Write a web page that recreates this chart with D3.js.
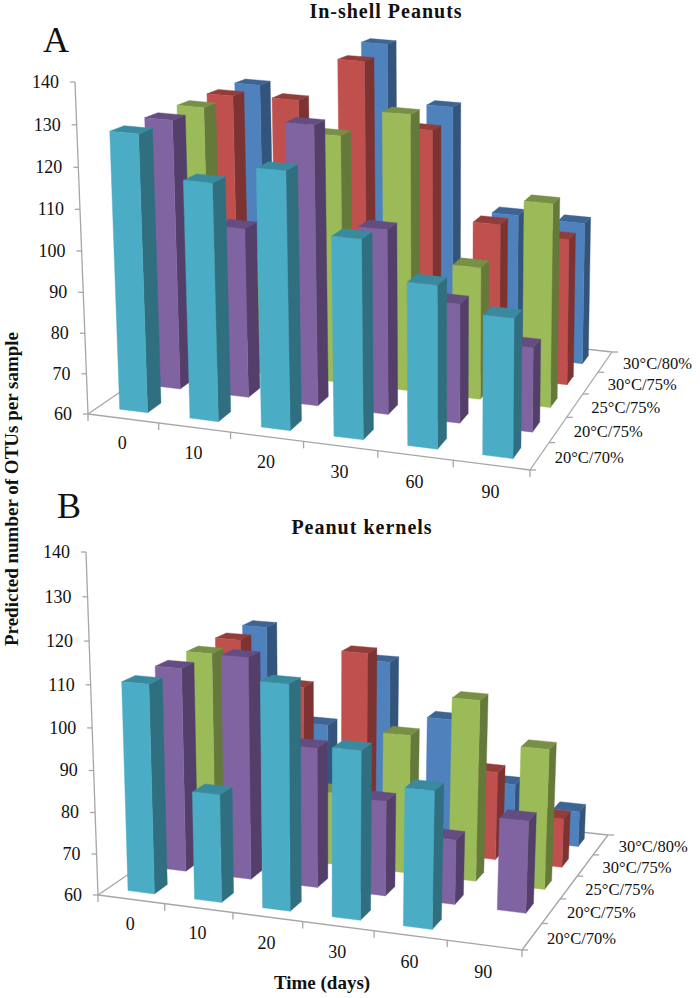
<!DOCTYPE html>
<html>
<head>
<meta charset="utf-8">
<script src="https://cdn.jsdelivr.net/npm/d3@7"></script>
<style>
	body { margin: 0; background: #fff; }
	text { font-family: "Liberation Serif", serif; fill: #111; }
</style>
</head>
<body>
<div id="chart"></div>
<script>
const days = ['0', '10', '20', '30', '60', '90'];
const conditions = ['20°C/70%', '20°C/75%', '25°C/75%', '30°C/75%', '30°C/80%'];
const yTicks = [60, 70, 80, 90, 100, 110, 120, 130, 140];

// values, one list per condition. Hidden bars are guesses.
const shellCyan = [128, 118, 122.6, 108.3, 99.3, 93.5];
const shellPurple = [128, 102.8, 130, 106.2, 89.8, 81];
const shellGreen = [128, 92, 124, 131, 94, 112];
const shellRed = [128, 128.4, 140, 123.7, 100.7, 98.6];
const shellBlue = [128, 112, 142, 126.6, 99, 98.6];

const kernelCyan = [110, 85.8, 113, 99.5, 92.1, null]; // no bar at day 90
const kernelPurple = [110, 114, 94, 83, 75.6, 82];
const kernelGreen = [110, 80, 78.2, 94.4, 104.5, 94.3];
const kernelRed = [110, 99.3, 109.4, 65, 82.4, 72.4];
const kernelBlue = [110, 85.4, 103.6, 90, 74.6, 69.2];

// front, side, top
const faceColors = [
	['#4bacc6', '#2f6f80', '#3a8a9f'],
	['#8064a2', '#533f6a', '#644d80'],
	['#9bbb59', '#657a3a', '#788f46'],
	['#c0504d', '#7d3331', '#933d3b'],
	['#4f81bd', '#33547b', '#3d6492']
];
const axisColor = '#a6a6a6';

const svg = d3.select('#chart').append('svg')
	.attr('width', 700)
	.attr('height', 998);

// Perspective camera: floor corners go to pixels, t lifts a point off the floor.
function makeCamera(A, B, C, D, top, c3){
	const dx1 = B[0] - C[0], dy1 = B[1] - C[1],
		dx2 = D[0] - C[0], dy2 = D[1] - C[1],
		sx = A[0] - B[0] + C[0] - D[0], sy = A[1] - B[1] + C[1] - D[1],
		det = dx1 * dy2 - dx2 * dy1,
		g = (sx * dy2 - dx2 * sy) / det,
		h = (dx1 * sy - sx * dy1) / det,
		x3 = top[0] * (1 + c3) - A[0],
		y3 = top[1] * (1 + c3) - A[1];

	return (u, v, t) => {
		const w = g * u + h * v + 1 + c3 * t;
		return [
			((B[0] - A[0] + g * B[0]) * u + (D[0] - A[0] + h * D[0]) * v + A[0] + x3 * t) / w,
			((B[1] - A[1] + g * B[1]) * u + (D[1] - A[1] + h * D[1]) * v + A[1] + y3 * t) / w
		];
	};
}

function drawPanel(options){
	const project = makeCamera(...options.floor, options.top, options.c3),
		series = options.series,
		g = svg.append('g'),
		path = d3.line();

	// gapWidth and gapDepth of 150%, so each bar fills 40% of its cell
	const x = d3.scaleBand().domain(days).range([0, 1]).paddingInner(0.6).paddingOuter(0.3),
		z = d3.scaleBand().domain(conditions).range([0, 1]).paddingInner(0.6).paddingOuter(0.3),
		y = d3.scaleLinear().domain([60, 140]).range([0, 1]);

	const cellU = i => i / days.length,
		cellV = j => j / conditions.length;

	const seg = (a, b) => g.append('line')
		.attr('x1', a[0]).attr('y1', a[1])
		.attr('x2', b[0]).attr('y2', b[1])
		.style('stroke', axisColor)
		.style('stroke-width', 1.3);

	// floor and axis lines sit behind the bars
	seg(project(0, 0, 0), project(1, 0, 0));
	seg(project(1, 0, 0), project(1, 1, 0));
	seg(project(1, 1, 0), project(0, 1, 0));
	seg(project(0, 1, 0), project(0, 0, 0));
	seg(project(0, 0, 0), project(0, 0, 1));

	yTicks.forEach(d => {
		const p = project(0, 0, y(d));
		seg([p[0] - 5, p[1]], p);
		g.append('text')
			.attr('x', p[0] - 16)
			.attr('y', p[1])
			.attr('dy', '.33em')
			.attr('text-anchor', 'end')
			.style('font-size', '18px')
			.text(d);
	});

	d3.range(days.length + 1).forEach(i => {
		const p = project(cellU(i), 0, 0);
		seg(p, [p[0], p[1] + 7]);
	});

	days.forEach((d, i) => {
		const p = project(cellU(i + 0.5), 0, 0);
		g.append('text')
			.attr('x', p[0] - 1)
			.attr('y', p[1] + 25 + i * 0.4)
			.attr('dy', '.33em')
			.attr('text-anchor', 'middle')
			.style('font-size', '18px')
			.text(d);
	});

	d3.range(conditions.length + 1).forEach(j => {
		const p = project(1, cellV(j), 0);
		seg(p, [p[0] + 6, p[1]]);
	});

	conditions.forEach((d, j) => {
		const p = project(1, cellV(j + 0.5), 0);
		g.append('text')
			.attr('x', p[0] + 15 + j * 0.75)
			.attr('y', p[1] + 2)
			.attr('dy', '.33em')
			.style('font-size', '16.5px')
			.text(d);
	});

	// back row first, left to right, so nearer bars paint over
	d3.range(conditions.length - 1, -1, -1).forEach(j => {
		days.forEach((day, i) => {
			const value = series[j][i];
			if (value == null) return;

			const u0 = x(day), u1 = u0 + x.bandwidth(),
				v0 = z(conditions[j]), v1 = v0 + z.bandwidth(),
				t = y(value),
				colors = faceColors[j];

			const faces = [
				[[u1, v0, 0], [u1, v1, 0], [u1, v1, t], [u1, v0, t]],
				[[u0, v0, t], [u1, v0, t], [u1, v1, t], [u0, v1, t]],
				[[u0, v0, 0], [u1, v0, 0], [u1, v0, t], [u0, v0, t]]
			];

			g.append('g')
				.selectAll('path')
				.data(faces)
				.enter()
				.append('path')
					.attr('d', d => path(d.map(q => project(...q))) + 'Z')
					.style('fill', (d, k) => colors[[1, 2, 0][k]])
					.style('stroke', (d, k) => colors[[1, 2, 0][k]])
					.style('stroke-width', 0.4);
		});
	});

	g.append('text')
		.attr('x', options.titleX)
		.attr('y', options.titleY)
		.attr('text-anchor', 'middle')
		.style('font-size', '20px')
		.style('letter-spacing', '1px')
		.style('font-weight', 'bold')
		.text(options.title);

	g.append('text')
		.attr('x', options.letterX)
		.attr('y', options.letterY)
		.style('font-size', '36px')
		.text(options.letter);
}

drawPanel({
	floor: [[88, 414], [530, 470], [612, 352], [240, 310]],
	top: [75, 82],
	c3: -0.0355,
	series: [shellCyan, shellPurple, shellGreen, shellRed, shellBlue],
	title: 'In-shell Peanuts',
	titleX: 386,
	titleY: 18,
	letter: 'A',
	letterX: 43,
	letterY: 52
});

drawPanel({
	floor: [[98, 895], [522, 950], [608, 835], [245, 795]],
	top: [86, 552],
	c3: -0.05,
	series: [kernelCyan, kernelPurple, kernelGreen, kernelRed, kernelBlue],
	title: 'Peanut kernels',
	titleX: 362,
	titleY: 534,
	letter: 'B',
	letterX: 57,
	letterY: 518
});

svg.append('text')
	.attr('transform', 'translate(18,489)rotate(-90)')
	.attr('text-anchor', 'middle')
	.style('font-size', '19px')
	.style('font-weight', 'bold')
	.text('Predicted number of OTUs per sample');

svg.append('text')
	.attr('x', 322)
	.attr('y', 989)
	.attr('text-anchor', 'middle')
	.style('font-size', '19px')
	.style('font-weight', 'bold')
	.text('Time (days)');
</script>
</body>
</html>
